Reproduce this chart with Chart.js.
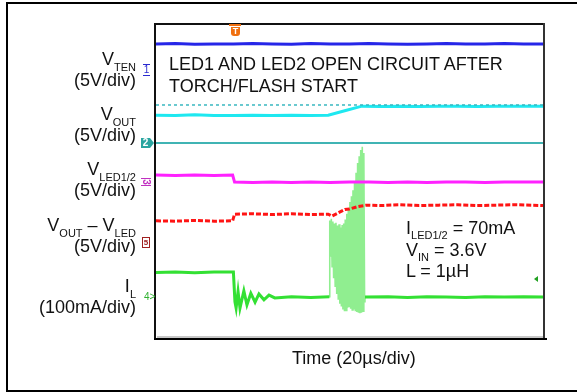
<!DOCTYPE html>
<html>
<head>
<meta charset="utf-8">
<script src="https://cdn.jsdelivr.net/npm/chart.js@4"></script>
<style>
body{margin:0;background:#fff;font-family:Arial,"Liberation Sans",sans-serif;overflow:hidden;}
#wrap{position:relative;width:577px;height:392px;overflow:hidden;}
#outer{position:absolute;left:6px;top:2px;width:600px;height:386px;border:2px solid #000;border-right:none;}
canvas{position:absolute;left:0;top:0;}
.t{position:absolute;white-space:nowrap;font-size:18px;line-height:18px;color:#111;}
.r{right:441px;text-align:right;}
.s{font-size:11px;position:relative;top:6px;}
.mk{position:absolute;font-size:10px;line-height:10px;font-weight:bold;}
</style>
</head>
<body>
<div id="wrap">
  <div id="outer"></div>
  <canvas id="myChart" width="577" height="392"></canvas>

  <div class="t r" style="top:50px">V<span class="s">TEN</span></div>
  <div class="t r" style="top:71px">(5V/div)</div>
  <div class="t r" style="top:105px">V<span class="s">OUT</span></div>
  <div class="t r" style="top:126px">(5V/div)</div>
  <div class="t r" style="top:160px">V<span class="s">LED1/2</span></div>
  <div class="t r" style="top:181px">(5V/div)</div>
  <div class="t r" style="top:216px">V<span class="s">OUT</span> &#8211; V<span class="s">LED</span></div>
  <div class="t r" style="top:237px">(5V/div)</div>
  <div class="t r" style="top:277px">I<span class="s">L</span></div>
  <div class="t r" style="top:298px">(100mA/div)</div>

  <div class="t" style="left:169px;top:55px">LED1 AND LED2 OPEN CIRCUIT AFTER</div>
  <div class="t" style="left:169px;top:77px">TORCH/FLASH START</div>

  <div class="t" style="left:406px;top:219px">I<span class="s" style="top:5px">LED1/2</span> = 70mA</div>
  <div class="t" style="left:406px;top:241px">V<span class="s" style="top:5px">IN</span> = 3.6V</div>
  <div class="t" style="left:406px;top:262px">L = 1µH</div>

  <div class="t" style="left:292px;top:349px">Time (20µs/div)</div>

  <!-- channel markers -->
  <div class="mk" style="left:143px;top:64px;color:#2a2ad0;border-bottom:1.5px solid #2a2ad0;border-top:1px solid #2a2ad0;width:7px;text-align:center;font-weight:normal">1</div>
  <div class="mk" style="left:141px;top:138px;width:9px;height:10px;background:#2aa5a0;color:#fff;text-align:center">2</div>
  <div style="position:absolute;left:150px;top:138px;width:0;height:0;border-top:5px solid transparent;border-bottom:5px solid transparent;border-left:4px solid #2aa5a0"></div>
  <div class="mk" style="left:142px;top:177px;color:#c030c0;border-left:1.5px solid #c030c0;border-right:1.5px solid #c030c0;width:6px;text-align:center;transform:rotate(90deg)">3</div>
  <div class="mk" style="left:142px;top:237px;color:#a02020;border:1.5px solid #a02020;width:6px;height:9px;text-align:center;font-size:8px;line-height:9px">5</div>
  <div class="mk" style="left:144px;top:292px;color:#30b030;font-weight:normal">4&gt;</div>

  <!-- trigger marker -->
  <div style="position:absolute;left:229px;top:24px;width:12px;height:2px;background:#f07010"></div>
  <div class="mk" style="left:231px;top:27px;width:9px;height:9px;background:#f07010;color:#fff;text-align:center;font-size:9px;line-height:9px;border-radius:0 0 3px 3px">T</div>
  <!-- IL level marker on right -->
  <div style="position:absolute;left:534px;top:276px;width:0;height:0;border-top:3px solid transparent;border-bottom:3px solid transparent;border-right:4px solid #20a020"></div>
</div>

<script>
// x in time divisions (0..10), y in vertical divisions (0..8)
var vtenX = [0, 0.5, 1, 1.5, 2, 2.5, 3, 3.5, 4, 4.5, 5, 5.5, 6, 6.5, 7, 7.5, 8, 8.5, 9, 9.5, 10];
var vtenY = [7.49, 7.50, 7.48, 7.49, 7.49, 7.50, 7.49, 7.48, 7.50, 7.49, 7.49, 7.50, 7.49, 7.48, 7.49, 7.50, 7.49, 7.49, 7.50, 7.49, 7.49];

var voutRefY = 5.93;   // dashed line
var ch2RefY = 4.96;    // solid teal line

var voutX = [0, 0.5, 1, 1.5, 2, 2.5, 3, 3.5, 4, 4.45, 4.9, 5.32, 5.8, 6.3, 6.8, 7.3, 7.8, 8.3, 8.8, 9.3, 10];
var voutY = [5.67, 5.66, 5.68, 5.66, 5.66, 5.67, 5.66, 5.67, 5.66, 5.67, 5.79, 5.90, 5.89, 5.90, 5.89, 5.90, 5.90, 5.89, 5.90, 5.90, 5.90];

var vledX = [0, 0.5, 1, 1.5, 1.98, 2.03, 2.5, 3, 3.5, 4, 4.5, 5, 5.5, 6, 6.5, 7, 7.5, 8, 8.5, 9, 9.5, 10];
var vledY = [4.14, 4.13, 4.14, 4.13, 4.14, 3.96, 3.95, 3.96, 3.95, 3.96, 3.95, 3.96, 3.96, 3.95, 3.96, 3.95, 3.96, 3.96, 3.95, 3.96, 3.96, 3.96];

var diffX = [0, 0.5, 1, 1.5, 1.98, 2.03, 2.5, 3, 3.5, 4, 4.45, 4.55, 4.88, 5.0, 5.2, 5.44, 5.8, 6.3, 6.8, 7.3, 7.8, 8.3, 8.8, 9.3, 10];
var diffY = [2.97, 2.96, 2.98, 2.96, 2.97, 3.14, 3.15, 3.13, 3.15, 3.13, 3.14, 3.09, 3.26, 3.27, 3.33, 3.37, 3.36, 3.38, 3.36, 3.37, 3.38, 3.36, 3.37, 3.38, 3.36];

var ilX = [0, 0.5, 1, 1.5, 2.0, 2.04, 2.07, 2.12, 2.17, 2.27, 2.35, 2.45, 2.56, 2.66, 2.79, 2.92, 3.07, 3.5, 4, 4.48, null, 5.40, 6, 6.5, 7, 7.5, 8, 8.5, 9, 9.5, 10];
var ilY = [1.65, 1.66, 1.64, 1.66, 1.66, 0.90, 0.74, 1.16, 0.74, 1.18, 0.82, 1.12, 0.89, 1.10, 0.95, 1.07, 1.00, 1.03, 1.01, 1.03, null, 1.02, 1.03, 1.01, 1.03, 1.02, 1.01, 1.03, 1.02, 1.03, 1.02];

var burstX = [4.48, 4.49, 4.51, 4.53, 4.55, 4.57, 4.59, 4.61, 4.63, 4.65, 4.67, 4.69, 4.71, 4.73, 4.75, 4.77, 4.79, 4.81, 4.83, 4.85, 4.87, 4.89, 4.91, 4.93, 4.95, 4.97, 4.99, 5.01, 5.03, 5.05, 5.07, 5.09, 5.11, 5.13, 5.15, 5.17, 5.19, 5.21, 5.23, 5.25, 5.27, 5.29, 5.31, 5.33, 5.35, 5.37, 5.39, 5.40];
var burstY = [1.03, 2.98, 2.05, 3.02, 1.80, 2.95, 1.50, 2.90, 1.30, 2.92, 1.10, 2.85, 0.95, 2.88, 0.85, 2.80, 0.78, 2.86, 0.70, 2.90, 0.66, 3.00, 0.68, 3.15, 0.75, 3.30, 0.78, 3.45, 0.72, 3.60, 0.69, 3.75, 0.70, 3.95, 0.66, 4.20, 0.64, 4.45, 0.62, 4.62, 0.61, 4.78, 0.62, 4.86, 0.66, 4.70, 0.90, 1.02];

function pts(xs, ys) {
  return xs.map(function (x, i) { return { x: x, y: ys[i] }; });
}

function trace(data, color, width, dash) {
  return {
    data: data,
    borderColor: color,
    borderWidth: width,
    borderDash: dash || [],
    pointRadius: 0,
    tension: 0,
    fill: false,
    spanGaps: false
  };
}

var scopeFrame = {
  id: 'scopeFrame',
  afterDatasetsDraw: function (chart) {
    var ctx = chart.ctx, a = chart.chartArea;
    ctx.save();
    ctx.fillStyle = '#c8c8c8';
    ctx.fillRect(a.left + 1, a.bottom - 1, a.right - a.left, 2);
    ctx.fillStyle = '#111';
    ctx.fillRect(a.left - 2, a.top - 1, a.right - a.left + 3, 2);   // top
    ctx.fillRect(a.left - 2, a.top - 1, 2, a.bottom - a.top + 4);   // left
    ctx.fillStyle = '#333';
    ctx.fillRect(a.right, a.top - 1, 2, a.bottom - a.top + 2);      // right
    ctx.fillStyle = '#000';
    ctx.fillRect(a.left - 2, a.bottom + 1, a.right - a.left + 6, 2); // bottom
    ctx.restore();
  }
};

var config = {
  type: 'line',
  data: {
    datasets: [
      trace(pts(vtenX, vtenY), '#2626e8', 3),
      trace(pts(vledX, vledY), '#ff22ff', 3),
      trace(pts(diffX, diffY), '#ff1414', 3, [5, 2]),
      trace(pts([0, 10], [ch2RefY, ch2RefY]), '#40b4b4', 2),
      trace(pts([0, 10], [voutRefY, voutRefY]), '#3ab8c0', 1.5, [3, 3]),
      trace(pts(voutX, voutY), '#1ee8f0', 3),
      trace(pts(ilX, ilY), '#33e033', 3),
      trace(pts(burstX, burstY), '#90ee90', 1.6)
    ]
  },
  options: {
    responsive: false,
    animation: false,
    layout: { padding: { left: 156, top: 24, right: 34, bottom: 55 } },
    plugins: { legend: { display: false }, tooltip: { enabled: false } },
    scales: {
      x: { type: 'linear', min: 0, max: 10, display: false },
      y: { type: 'linear', min: 0, max: 8, display: false }
    }
  },
  plugins: [scopeFrame]
};

var myChart = new Chart(document.getElementById('myChart').getContext('2d'), config);
</script>
</body>
</html>
